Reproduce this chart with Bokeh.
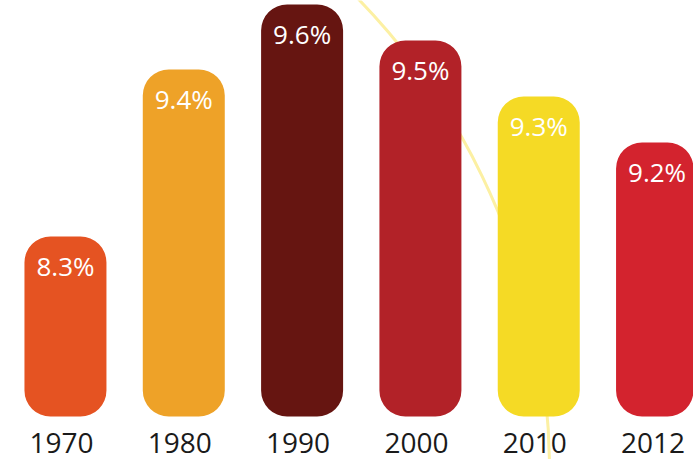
from bokeh.plotting import figure
from bokeh.models import ColumnDataSource, Range1d
from bokeh.core.properties import value
from bokeh.embed import file_html
from bokeh.resources import INLINE

# --- data ---
years = ["1970", "1980", "1990", "2000", "2010", "2012"]
rates = [8.3, 9.4, 9.6, 9.5, 9.3, 9.2]
bar_heights = [180, 347, 412, 376, 320, 274]   # bar lengths as drawn (arbitrary units)
colors = ["#E55322", "#EEA228", "#661511", "#B22228", "#F5DA25", "#D3232E"]

labels = [f"{r}%" for r in rates]
xs = list(range(len(years)))

src = ColumnDataSource(dict(x=xs, top=bar_heights, color=colors,
                            label=labels, year=years))

p = figure(width=693, height=459, output_backend="svg", toolbar_location=None,
           x_range=Range1d(-0.549, 5.308), y_range=Range1d(-43, 416),
           min_border=0, outline_line_color=None, background_fill_color="white",
           border_fill_color="white")
p.axis.visible = False
p.grid.visible = False

# decorative pale-yellow arc behind the bars
p.arc(x=-1.631, y=-54, radius=677, radius_units="screen",
      start_angle=-0.05, end_angle=0.95, line_color="#FCF0A3", line_width=3)

p.vbar(x="x", top="top", bottom=0, width=0.693, fill_color="color",
       line_color=None, border_radius=26, source=src)

p.text(x="x", y="top", text="label", source=src, y_offset=29,
       text_align="center", text_baseline="alphabetic", text_color="white",
       text_font=value("Open Sans"), text_font_size="26px")

p.text(x="x", y=0, text="year", source=src, y_offset=26, x_offset=-4,
       text_align="center", text_baseline="alphabetic", text_color="#1a1a1a",
       text_font=value("Open Sans"), text_font_size="28px")

open("out.html", "w").write(file_html(p, INLINE))
